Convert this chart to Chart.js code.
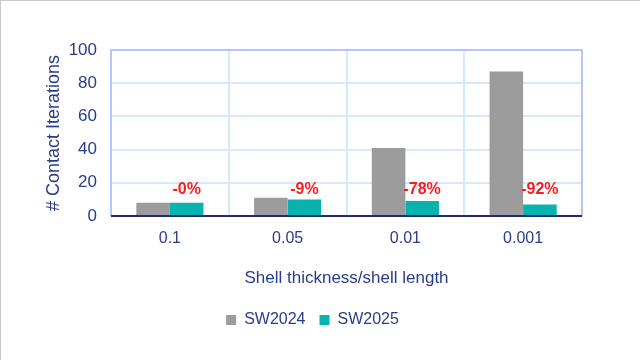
<!DOCTYPE html>
<html>
<head>
<meta charset="utf-8">
<script src="https://cdn.jsdelivr.net/npm/chart.js@4"></script>
<style>
html,body{margin:0;padding:0;background:#fff;}
#wrap{position:relative;width:640px;height:360px;}
canvas{display:block;}
</style>
</head>
<body>
<div id="wrap"><canvas id="c" width="640" height="360"></canvas></div>
<script>
const categories = ["0.1", "0.05", "0.01", "0.001"];
const sw2024 = [8, 11, 41, 87];
const sw2025 = [8, 10, 9, 7];
const changeLabels = ["-0%", "-9%", "-78%", "-92%"];
const yTicks = [0, 20, 40, 60, 80, 100];

const FONT = "'Liberation Sans Narrow', 'Arial Narrow', 'Liberation Sans', Arial, sans-serif";
const NAVY = "#2b3b8c";

const framePlugin = {
  id: 'frame',
  beforeDraw(chart) {
    const ctx = chart.ctx;
    ctx.save();
    ctx.fillStyle = '#fff';
    ctx.fillRect(0, 0, chart.width, chart.height);
    ctx.fillStyle = '#c8c8c8';
    ctx.fillRect(0, 0, chart.width, 1);
    ctx.fillRect(0, 0, 1, chart.height);
    ctx.restore();
  },
  afterDatasetsDraw(chart) {
    const ctx = chart.ctx;
    const a = chart.chartArea;
    ctx.save();
    ctx.strokeStyle = '#b3c6ff';
    ctx.lineWidth = 2;
    ctx.beginPath();
    ctx.moveTo(a.left, a.bottom);
    ctx.lineTo(a.left, a.top);
    ctx.lineTo(a.right, a.top);
    ctx.lineTo(a.right, a.bottom);
    ctx.stroke();
    ctx.strokeStyle = '#1f2a78';
    ctx.lineWidth = 2;
    ctx.beginPath();
    ctx.moveTo(a.left, a.bottom);
    ctx.lineTo(a.right, a.bottom);
    ctx.stroke();
    const meta = chart.getDatasetMeta(1);
    const ys = chart.scales.y;
    ctx.fillStyle = '#ff1a1a';
    ctx.font = "bold 16px " + FONT;
    ctx.textAlign = 'center';
    ctx.textBaseline = 'middle';
    meta.data.forEach((bar, i) => {
      ctx.fillText(changeLabels[i], bar.x, ys.getPixelForValue(16));
    });
    ctx.restore();
  }
};

new Chart(document.getElementById('c'), {
  type: 'bar',
  data: {
    labels: categories,
    datasets: [
      { label: 'SW2024', data: sw2024, backgroundColor: '#9c9c9c', borderWidth: 0 },
      { label: 'SW2025', data: sw2025, backgroundColor: '#07b3ac', borderWidth: 0 }
    ]
  },
  options: {
    responsive: false,
    animation: false,
    devicePixelRatio: 1,
    categoryPercentage: 0.57,
    barPercentage: 1.0,
    layout: { padding: { top: 50, right: 58, left: 43, bottom: 22 } },
    plugins: {
      legend: {
        position: 'bottom',
        labels: {
          font: { family: FONT, size: 16 },
          color: NAVY,
          boxWidth: 10,
          boxHeight: 10,
          padding: 14
        }
      },
      tooltip: { enabled: false }
    },
    scales: {
      x: {
        grid: { color: '#d4e8ff', lineWidth: 2, drawTicks: false, offset: true },
        border: { display: false },
        ticks: { font: { family: FONT, size: 16 }, color: NAVY, padding: 13 },
        title: { display: true, text: 'Shell thickness/shell length', font: { family: FONT, size: 17 }, color: NAVY, padding: { top: 10, bottom: 9 } },
        afterFit(s) { s.height = 82; }
      },
      y: {
        min: 0, max: 100,
        afterBuildTicks(s) { s.ticks = yTicks.map(v => ({ value: v })); },
        grid: { color: '#d4e8ff', lineWidth: 2, drawTicks: false },
        border: { display: false },
        ticks: { font: { family: FONT, size: 17 }, color: NAVY, padding: 14 },
        title: { display: true, text: '# Contact Iterations', font: { family: FONT, size: 18 }, color: NAVY, padding: { top: 0, bottom: 10 } },
        afterFit(s) { s.width = 68; }
      }
    }
  },
  plugins: [framePlugin]
});
</script>
</body>
</html>
